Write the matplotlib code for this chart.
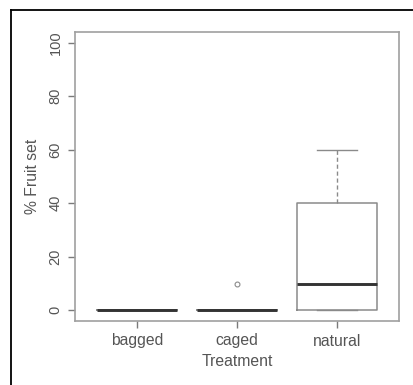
import matplotlib
matplotlib.use("Agg")
import matplotlib.pyplot as plt
from matplotlib.lines import Line2D

plt.rcParams['font.family'] = ['Liberation Sans', 'DejaVu Sans']

categories = ["bagged", "caged", "natural"]
q1 = [0, 0, 0]
medians = [0, 0, 10]
q3 = [0, 0, 40]
whislo = [0, 0, 0]
whishi = [0, 0, 60]
fliers = [[], [10], []]
yticks = [0, 20, 40, 60, 80, 100]

W, H = 414, 385
fig = plt.figure(figsize=(W / 100, H / 100), dpi=100)
ax = fig.add_axes([75 / W, 1 - 321 / H, (399 - 75) / W, (321 - 32) / H])

stats = []
for i, c in enumerate(categories):
    stats.append(dict(label=c, q1=q1[i], med=medians[i], q3=q3[i],
                      whislo=whislo[i], whishi=whishi[i], fliers=fliers[i]))

gray = "#8a8a8a"
tcol = "#555555"
ax.bxp(stats, positions=[1, 2, 3], widths=0.8,
       boxprops=dict(color=gray, linewidth=1.1),
       medianprops=dict(color="#333333", linewidth=2.1, solid_capstyle="butt"),
       whiskerprops=dict(color=gray, linewidth=1.0, linestyle=(0, (3, 2))),
       capprops=dict(color=gray, linewidth=1.0),
       capwidths=0.4,
       flierprops=dict(marker="o", markersize=3.5, markerfacecolor="none",
                       markeredgecolor=gray, markeredgewidth=0.8))

ax.set_xlim(0.38, 3.62)
ax.set_ylim(-4, 104)
ax.set_yticks(yticks)
ax.set_yticklabels([str(v) for v in yticks], rotation=90, va="center")
ax.set_xticks([1, 2, 3])
ax.set_xticklabels(categories)
for s in ax.spines.values():
    s.set_color("#a0a0a0")
    s.set_linewidth(1.2)
ax.tick_params(axis="both", colors="#7a7a7a", labelcolor=tcol,
               length=5, width=1.0, pad=4)
ax.tick_params(axis="x", labelsize=11.3)
ax.tick_params(axis="y", labelsize=10.5)
ax.set_xlabel("Treatment", color=tcol, fontsize=11.3, labelpad=4)
ax.set_ylabel("% Fruit set", color=tcol, fontsize=11.3, labelpad=6)

# outer frame (left and top black edges)
fig.add_artist(Line2D([10.5 / W, 10.5 / W], [0, 1 - 9.5 / H], transform=fig.transFigure,
                      color="black", linewidth=1.3))
fig.add_artist(Line2D([10.5 / W, 1], [1 - 9.5 / H, 1 - 9.5 / H], transform=fig.transFigure,
                      color="black", linewidth=1.3))

fig.savefig("out.png", dpi=100)
